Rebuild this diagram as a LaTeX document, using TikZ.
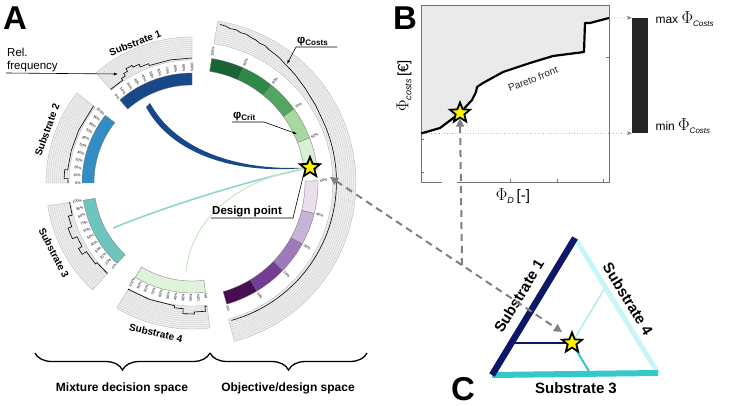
\documentclass[tikz,border=0pt]{standalone}
\usepackage{fontspec}
\setmainfont{Liberation Sans}
\usetikzlibrary{shapes.geometric,arrows.meta,decorations.pathreplacing}

\definecolor{subone}{RGB}{24,72,138}
\definecolor{subtwo}{RGB}{52,140,196}
\definecolor{subthree}{RGB}{108,198,190}
\definecolor{subfour}{RGB}{222,243,218}
\definecolor{greenA}{RGB}{25,100,52}
\definecolor{greenB}{RGB}{45,136,72}
\definecolor{greenC}{RGB}{82,166,96}
\definecolor{greenD}{RGB}{166,216,160}
\definecolor{greenE}{RGB}{218,240,210}
\definecolor{purpleA}{RGB}{234,222,238}
\definecolor{purpleB}{RGB}{200,178,216}
\definecolor{purpleC}{RGB}{158,122,186}
\definecolor{purpleD}{RGB}{116,60,146}
\definecolor{purpleE}{RGB}{72,14,82}
\definecolor{ringgrey}{RGB}{238,238,238}
\definecolor{plotgrey}{RGB}{234,234,234}
\definecolor{trinavy}{RGB}{14,22,104}
\definecolor{tricyan}{RGB}{200,246,246}
\definecolor{triteal}{RGB}{52,200,200}

\newcommand{\annulus}[5]{%
	\path[#5] plot[domain=#1:#2, samples=30] (\x:#3) -- plot[domain=#2:#1, samples=30] (\x:#4) -- cycle;}

\newcommand{\histbox}[4]{%
	\annulus{#1}{#2}{#3}{#4}{fill=ringgrey, draw=black!35, line width=0.3pt}
	\pgfmathsetmacro{\gstep}{(#4-#3)/11}
	\foreach \k in {1,...,10}
		\draw[gridline] plot[domain=#1:#2, samples=30] (\x:{#3+\k*\gstep});}

\newcommand{\pctlabels}[3]{%
	\foreach \i in {0,...,10}{
		\pgfmathsetmacro{\ang}{(#1)+\i*((#2)-(#1))/10}
		\pgfmathtruncatemacro{\pct}{10*\i}
		\node[pctlabel, anchor=east, rotate={180-\ang}] at (\ang:#3) {\pct\%};}}

\begin{document}
\begin{tikzpicture}
	[
		x = 1pt, y = -1pt,
		ringbar/.style = {draw=black!55, line width=0.3pt},
		gridline/.style = {draw=black!22, line width=0.25pt},
		histline/.style = {draw=black, line width=0.6pt},
		pctlabel/.style = {font=\fontsize{3.6}{4}\selectfont, inner sep=0.3pt},
		sublabel/.style = {font=\fontsize{10}{12}\selectfont\bfseries},
		callout/.style = {font=\fontsize{11.5}{13}\selectfont\bfseries, inner sep=1pt},
		panelletter/.style = {font=\fontsize{33}{36}\selectfont\bfseries, inner sep=0pt},
		spacelabel/.style = {font=\fontsize{12}{14}\selectfont\bfseries},
		trilabel/.style = {font=\fontsize{15}{18}\selectfont\bfseries, inner sep=0pt},
		pointer/.style = {draw=black, line width=0.6pt, -{Latex[length=4pt,width=3pt]}},
		designstar/.style = {star, star points=5, star point ratio=2.3, fill=yellow, draw=black, line width=1.8pt, minimum size=21pt, inner sep=0pt},
		linkarrow/.style = {draw=black!50, line width=2pt, dash pattern=on 7pt off 5pt},
		dotarrow/.style = {draw=black!50, line width=0.6pt, dotted, -{Stealth[length=5pt,width=4pt]}},
		axisline/.style = {draw=black!55, line width=0.6pt}
	]
	\useasboundingbox (0,0) rectangle (733,406);

	\begin{scope}[shift={(192,183)}]
		\histbox{-131}{-90}{123}{146}
		\histbox{180}{218}{123}{146}
		\histbox{133}{171}{123}{146}
		\histbox{83}{121}{123}{146}
		\histbox{-81}{75}{141}{164}

		\annulus{-131}{-90}{98}{110}{fill=subone, ringbar}
		\annulus{180}{218}{98}{110}{fill=subtwo, ringbar}
		\annulus{133}{171}{98}{110}{fill=subthree, ringbar}
		\annulus{83}{121}{98}{110}{fill=subfour, ringbar}

		\pctlabels{-131}{-90}{111}
		\pctlabels{180}{218}{111}
		\pctlabels{133}{171}{111}
		\pctlabels{83}{121}{111}

		\foreach \c [count=\k from 0] in {greenA,greenB,greenC,greenD,greenE}{
			\pgfmathsetmacro{\ga}{-81+15*\k}
			\pgfmathsetmacro{\gb}{-66+15*\k}
			\annulus{\ga}{\gb}{113}{126}{fill=\c, ringbar}
		}
		\foreach \c [count=\k from 0] in {purpleA,purpleB,purpleC,purpleD,purpleE}{
			\pgfmathsetmacro{\pa}{-1+15*\k}
			\pgfmathsetmacro{\pb}{14+15*\k}
			\annulus{\pa}{\pb}{113}{126}{fill=\c, ringbar}
		}
		\foreach \a/\t in {-81/100,-66/90,-51/80,-36/70,-21/60,-1/50,14/40,29/30,44/20,59/10,74/0}
			\node[pctlabel, anchor=west, rotate=-\a] at (\a:127.5) {\t\%};

		\draw[histline] (-131:124) -- (-124:124) -- (-124:126) -- (-122:126) -- (-122:129) -- (-120:129) -- (-120:132) -- (-117:132) -- (-117:130) -- (-114:130) -- (-114:127) -- (-110:127) -- (-110:125) -- (-100:125) -- (-90:125);
		\draw[histline] (180:124) -- (182:124) -- (182:128) -- (186:128) -- (186:125) -- (195:125) -- (205:125) -- (218:125);
		\draw[histline] (133:124) -- (140:124) -- (140:126) -- (147:126) -- (147:131) -- (150:131) -- (150:127) -- (155:127) -- (155:132) -- (160:132) -- (160:128) -- (165:128) -- (165:124) -- (171:124);
		\draw[histline] (83:124) -- (84:124) -- (84:129) -- (89:129) -- (89:131) -- (94:131) -- (94:126) -- (98:126) -- (98:124) -- (110:124) -- (121:124);
		\draw[histline, line join=round] (-80:161) -- (-78:160.5) -- (-76:159) -- (-74:159.5) -- (-72:158) -- (-70:158.4) -- (-68:157) -- (-66:156.6) -- (-64:155.2) -- (-62:155.6) -- (-60:154) -- (-57:153.2) -- (-55:152.6) -- (-52:151) -- (-49:150.2) -- (-46:149.4) -- (-43:148.2) -- (-40:147.6) -- (-36:146.4) -- (-32:146) -- (-27:145) -- plot[domain=-27:74, samples=40] (\x:{145-0.02*(\x+27)});

		\coordinate (dstarpos) at (-7.5:119);
	\end{scope}

	\coordinate (sub1a) at (146,107);
	\coordinate (sub1b) at (150,103);
	\coordinate (sub3a) at (113,228);
	\coordinate (sub4a) at (186,272);
	\fill[subone] (sub1a) .. controls (170,152) and (232,176) .. (dstarpos) .. controls (232,172) and (174,147) .. (sub1b) -- cycle;
	\draw[subthree!75, line width=1.6pt] (sub3a) .. controls (170,205) and (250,180) .. (dstarpos);
	\draw[greenD!60, line width=1.1pt] (sub4a) .. controls (190,225) and (230,180) .. (dstarpos);
	\node[designstar] (dstar) at (dstarpos) {};

	\node[sublabel, rotate=21] (s1lab) at (135,43) {Substrate 1};
	\node[sublabel, rotate=70] (s2lab) at (47,130) {Substrate 2};
	\node[sublabel, rotate=-63] (s3lab) at (54,253) {Substrate 3};
	\node[sublabel, rotate=-13.5] (s4lab) at (156,333) {Substrate 4};

	\node[panelletter] (letA) at (15,18) {A};
	\node[panelletter] (letB) at (405,18) {B};
	\node[panelletter] (letC) at (463,389) {C};

	\coordinate (histtip) at (118,74);
	\node[anchor=south west, align=left, inner sep=1pt, font=\fontsize{11.5}{13}\selectfont] (relfreq) at (6,73) {Rel.\\frequency};
	\draw[pointer] (relfreq.south west) -- (histtip);

	\coordinate (costtip) at (287,64);
	\node[callout, anchor=south west] (phicost) at (296,47) {φ\textsubscript{Costs}};
	\coordinate (costknee) at (337,47);
	\draw[pointer] (costknee) -- (phicost.south west) -- (costtip);

	\coordinate (crittip) at (297,134);
	\coordinate (critknee) at (264,122);
	\node[callout, anchor=south west] (phicrit) at (232,122) {φ\textsubscript{Crit}};
	\draw[pointer] (phicrit.south west) -- (critknee) -- (crittip);

	\coordinate (dpknee) at (293,218);
	\coordinate (dptip) at (303,177);
	\node[callout, anchor=south west] (design) at (211,218) {Design point};
	\draw[black, line width=0.6pt] (design.south west) -- (dpknee) -- (dptip);

	\coordinate (mixL) at (35,353);
	\coordinate (mixR) at (210,353);
	\coordinate (objR) at (367,353);
	\draw[line width=1.3pt, decorate, decoration={brace, mirror, amplitude=17pt}] (mixL) -- (mixR);
	\draw[line width=1.3pt, decorate, decoration={brace, mirror, amplitude=17pt}] (mixR) -- (objR);
	\node[spacelabel] (mixlab) at (122,388) {Mixture decision space};
	\node[spacelabel] (objlab) at (288,388) {Objective/design space};

	\coordinate (frontmin) at (421,133.5);
	\coordinate (frontmax) at (609,18);
	\fill[plotgrey] (421,5) -- (609,5) -- (frontmax) -- (590,23) -- (585,23) -- (584,52) -- (553,56) -- (530,63) -- (503,72) -- (483,83) -- (477,87) -- (476,92) -- (472,100) -- (460,113) -- (440,128) -- (frontmin) -- cycle;
	\draw[axisline] (421,5) -- (421,182) -- (442,182);
	\draw[axisline] (457,182) -- (609,182) -- (609,5) -- (421,5);
	\foreach \ty in {139,172}
		\draw[axisline] (421,\ty) -- (424,\ty);
	\draw[axisline] (609,57) -- (606,57);
	\foreach \tx in {510,557,603}
		\draw[axisline] (\tx,182) -- (\tx,179);
	\draw[line width=2.2pt, line join=round] (frontmin) -- (440,128) -- (460,113) -- (472,100) -- (476,92) -- (477,87) -- (483,83) -- (503,72) -- (530,63) -- (553,56) -- (584,52) -- (585,23) -- (590,23) -- (frontmax);
	\node[font=\fontsize{10}{12}\selectfont, text=black!85, rotate=21] (pareto) at (533,79) {Pareto front};
	\node[designstar] (bstar) at (460,113) {};
	\node[rotate=90] (ylab) at (404,86) {{\fontsize{17}{18}\selectfont$\Phi$}\raisebox{-3pt}{\fontsize{9}{10}\selectfont\itshape costs} {\fontsize{15}{16}\selectfont[€]}};
	\node (xlab) at (513,196) {{\fontsize{17}{18}\selectfont$\Phi$}\raisebox{-3pt}{\fontsize{9}{10}\selectfont\itshape D} {\fontsize{15}{16}\selectfont[-]}};

	\node[fill=black!85, minimum width=16pt, minimum height=115pt, inner sep=0pt] (costbar) at (640,75.5) {};
	\draw[dotarrow] (frontmax) -- (costbar.north west);
	\draw[dotarrow] (frontmin) -- (costbar.south west);
	\node[anchor=west, font=\fontsize{12}{14}\selectfont] (maxlab) at (652,19) {max {\fontsize{17}{18}\selectfont$\Phi$}\raisebox{-3pt}{\fontsize{8}{9}\selectfont\itshape Costs}};
	\node[anchor=west, font=\fontsize{12}{14}\selectfont] (minlab) at (652,126) {min {\fontsize{17}{18}\selectfont$\Phi$}\raisebox{-3pt}{\fontsize{8}{9}\selectfont\itshape Costs}};

	\coordinate (ctop) at (575,238);
	\coordinate (cleft) at (492,375);
	\coordinate (cright) at (658,373);
	\coordinate (cstarpos) at (572,343);
	\coordinate (onleft) at (514,343);
	\coordinate (onright) at (605,288);
	\coordinate (onbottom) at (590,373);
	\draw[trinavy, line width=1.2pt] (cstarpos) -- (onleft);
	\draw[tricyan!80!triteal, line width=1.4pt] (cstarpos) -- (onright);
	\draw[triteal, line width=2pt] (cstarpos) -- (onbottom);
	\draw[tricyan, line width=5pt] (ctop) -- (cright);
	\draw[triteal, line width=6pt] (cleft) -- (cright);
	\draw[trinavy, line width=6.5pt] (cleft) -- (ctop);
	\node[trilabel, rotate=58.8] (t1lab) at (519,296) {Substrate 1};
	\node[trilabel, rotate=-58.5] (t4lab) at (628,299) {Substrate 4};
	\node[trilabel] (t3lab) at (576,388) {Substrate 3};
	\node[designstar] (cstar) at (cstarpos) {};

	\coordinate (ringtip) at (330,177);
	\coordinate (ctip) at (562,332);
	\coordinate (jn) at (462,265);
	\draw[linkarrow, {Triangle[length=8pt,width=8pt]}-{Triangle[length=8pt,width=8pt]}] (ringtip) -- (ctip);
	\draw[linkarrow, -{Triangle[length=8pt,width=8pt]}] (jn) -- (bstar.south);
\end{tikzpicture}
\end{document}
